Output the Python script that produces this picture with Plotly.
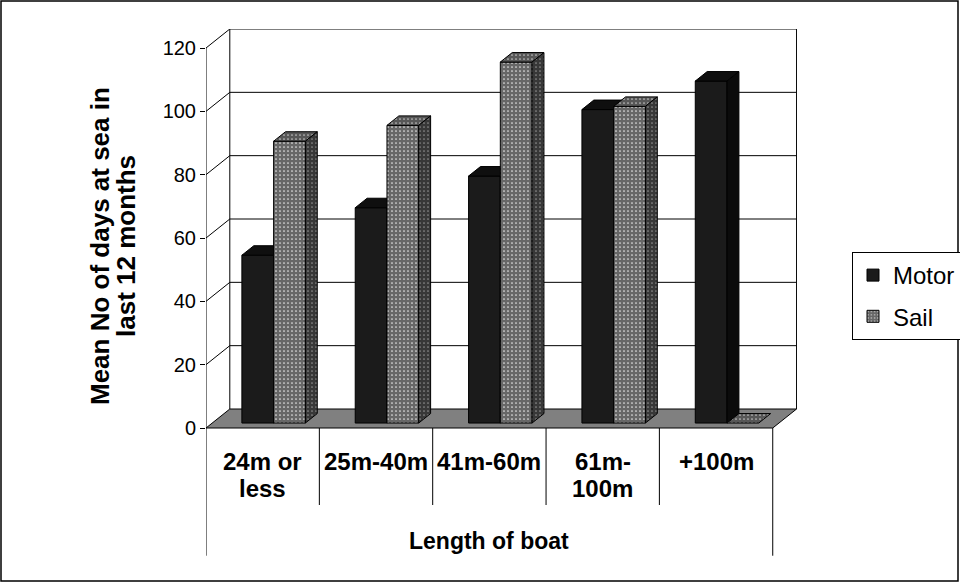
import plotly.graph_objects as go

# Mean number of days at sea in the last 12 months, by boat length
categories = [["24m or", "less"], ["25m-40m"], ["41m-60m"], ["61m-", "100m"], ["+100m"]]
motor = [53, 68, 78, 99, 108]
sail = [89, 94, 114, 100, 0]
y_ticks = [0, 20, 40, 60, 80, 100, 120]

FONT = "Liberation Sans, Arial, sans-serif"

# Oblique projection used for the pseudo-3D look
DX = 0.21      # horizontal shift of the full floor depth (category units)
DY = 6.0       # vertical shift of the full floor depth (value units)
D0, D1 = 0.26, 0.76          # depth span occupied by the bars
BAR_W = 0.28
OFFSETS = {"Motor": 0.262, "Sail": 0.542}   # left edge of each series inside a category
N = len(categories)

# plot area in pixels (used for paper-anchored decorations)
L, R, T, B = 206, 797, 29, 557
W_PX, H_PX = 960, 583
PX_PER_UNIT = (428 - 48) / 120
Y_MIN = -(B - 428) / PX_PER_UNIT
Y_MAX = 120 + DY


def px(xp):
    return (xp - L) / (R - L)


def py(yp):
    return (B - yp) / (B - T)


def val_at(yp):
    """value-axis coordinate of a pixel row below the floor front edge"""
    return -(yp - 428) / PX_PER_UNIT


def faces(values, series):
    """Polygons (front, top, side) for every category, as x/y lists split by gaps."""
    out = {"front": ([], []), "top": ([], []), "side": ([], [])}
    sx = (D1 - D0) * DX
    sy = (D1 - D0) * DY
    for i, v in enumerate(values):
        xl = i + OFFSETS[series] + D0 * DX
        xr = xl + BAR_W
        yb = D0 * DY
        yt = v + D0 * DY
        polys = {
            "front": [(xl, yb), (xr, yb), (xr, yt), (xl, yt)],
            "top": [(xl, yt), (xr, yt), (xr + sx, yt + sy), (xl + sx, yt + sy)],
            "side": [(xr, yb), (xr + sx, yb + sy), (xr + sx, yt + sy), (xr, yt)],
        }
        if v == 0:
            polys["front"] = []
            polys["side"] = []
        for k, pts in polys.items():
            if not pts:
                continue
            xs, ys = out[k]
            xs.extend([p[0] for p in pts] + [pts[0][0], None])
            ys.extend([p[1] for p in pts] + [pts[0][1], None])
    return out


def dots(bg, fg):
    return dict(shape=".", bgcolor=bg, fgcolor=fg, size=4, solidity=0.14, fillmode="replace")


styles = {
    "Motor": {
        "front": dict(fillcolor="#1b1b1b"),
        "top": dict(fillcolor="#0f0f0f"),
        "side": dict(fillcolor="#0b0b0b"),
    },
    "Sail": {
        "front": dict(fillpattern=dots("#676767", "#e6e6e6")),
        "top": dict(fillpattern=dots("#575757", "#c4c4c4")),
        "side": dict(fillpattern=dots("#383838", "#909090")),
    },
}

fig = go.Figure()

for name, vals in (("Motor", motor), ("Sail", sail)):
    f = faces(vals, name)
    for k in ("front", "top", "side"):
        xs, ys = f[k]
        if not xs:
            continue
        fig.add_trace(go.Scatter(
            x=xs, y=ys, mode="lines", fill="toself",
            line=dict(color="black", width=1),
            showlegend=False, hoverinfo="skip",
            **styles[name][k],
        ))

# legend entries
fig.add_trace(go.Bar(x=[None], y=[None], name="Motor", legendgroup="m",
                     marker=dict(color="#1b1b1b", line=dict(color="black", width=1))))
fig.add_trace(go.Bar(x=[None], y=[None], name="Sail", legendgroup="s",
                     marker=dict(color="#676767", line=dict(color="black", width=1),
                                 pattern=dots("#676767", "#e6e6e6"))))

shapes = []
line = dict(color="black", width=1)
# back wall and left wall gridlines
for v in y_ticks[1:]:
    shapes.append(dict(type="line", xref="x", yref="y", x0=0, y0=v, x1=DX, y1=v + DY,
                       line=line, layer="below"))
    shapes.append(dict(type="line", xref="x", yref="y", x0=DX, y0=v + DY, x1=N + DX, y1=v + DY,
                       line=line, layer="below"))
# wall edges
shapes.append(dict(type="line", xref="x", yref="y", x0=DX, y0=DY, x1=DX, y1=120 + DY,
                   line=line, layer="below"))
shapes.append(dict(type="line", xref="x", yref="y", x0=N + DX, y0=DY, x1=N + DX, y1=120 + DY,
                   line=line, layer="below"))
# value axis line
shapes.append(dict(type="line", xref="x", yref="y", x0=0, y0=0, x1=0, y1=120,
                   line=line, layer="below"))
# floor
shapes.append(dict(type="path", xref="x", yref="y",
                   path=f"M 0 0 L {N} 0 L {N + DX} {DY} L {DX} {DY} Z",
                   fillcolor="#808080", line=line, layer="below"))
# category table
for i in range(N + 1):
    bottom = Y_MIN + 0.4 if i in (0, N) else val_at(505)
    shapes.append(dict(type="line", xref="x", yref="y", x0=i, y0=0, x1=i, y1=bottom,
                       line=line, layer="below"))
# chart border
shapes.append(dict(type="rect", xref="paper", yref="paper",
                   x0=px(1), y0=py(581), x1=px(958), y1=py(1),
                   line=dict(color="black", width=1.5), layer="below"))

annotations = []
line_rows = [val_at(461), val_at(488)]
for i, lines in enumerate(categories):
    for j, txt in enumerate(lines):
        annotations.append(dict(x=i + 0.5, y=line_rows[j], xref="x", yref="y",
                                text=f"<b>{txt}</b>", showarrow=False,
                                yanchor="middle", xanchor="center",
                                font=dict(family=FONT, size=24, color="black")))
annotations.append(dict(x=N / 2, y=val_at(541), xref="x", yref="y", text="<b>Length of boat</b>",
                        showarrow=False, yanchor="middle", xanchor="center",
                        font=dict(family=FONT, size=23, color="black")))
for xp, txt in ((100, "Mean No of days at sea in"), (126, "last 12 months")):
    annotations.append(dict(x=px(xp), y=py(246), xref="paper", yref="paper",
                            text=f"<b>{txt}</b>", textangle=-90, showarrow=False,
                            xanchor="center", yanchor="middle",
                            font=dict(family=FONT, size=26, color="black")))

fig.update_layout(
    width=W_PX, height=H_PX,
    margin=dict(l=L, r=W_PX - R, t=T, b=H_PX - B, pad=0, autoexpand=False),
    paper_bgcolor="white", plot_bgcolor="white",
    xaxis=dict(range=[0, N + DX + 0.004], showgrid=False, zeroline=False,
               showticklabels=False, ticks="", fixedrange=True),
    yaxis=dict(range=[Y_MIN, Y_MAX], tickvals=y_ticks, ticks="outside", ticklen=5,
               tickcolor="black", showgrid=False, zeroline=False, showline=False,
               tickfont=dict(family=FONT, size=20, color="black"), fixedrange=True),
    shapes=shapes, annotations=annotations,
    legend=dict(xref="container", yref="container", x=852 / W_PX, y=1 - 252 / H_PX,
                xanchor="left", yanchor="top",
                bgcolor="white", bordercolor="black", borderwidth=1,
                font=dict(family=FONT, size=24, color="black"),
                traceorder="grouped", tracegroupgap=7),
    showlegend=True,
)

fig.write_html("out.html")
